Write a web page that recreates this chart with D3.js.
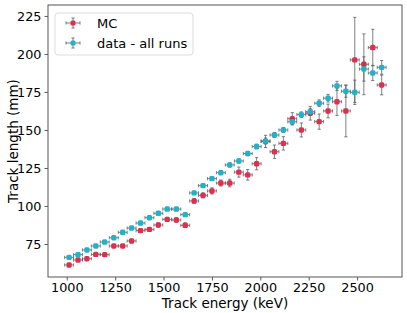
<!DOCTYPE html>
<html>
<head>
<meta charset="utf-8">
<script src="https://cdn.jsdelivr.net/npm/d3@7"></script>
<style>
    body { margin: 0; background: #fff; }
    text { font-family: "DejaVu Sans", sans-serif; fill: #000; }
</style>
</head>
<body>
<div id="wrapper"></div>
<script>
// bin centres (keV)
const energy = [1012, 1058, 1104, 1150, 1196, 1243, 1289, 1335, 1381, 1427, 1473, 1519,
    1566, 1612, 1658, 1704, 1750, 1796, 1842, 1889, 1935, 1981, 2027, 2073,
    2119, 2165, 2212, 2258, 2304, 2350, 2396, 2442, 2488, 2535, 2581, 2627]
const energyErr = 23

const mcLength = [61.2, 64.5, 65.3, 68.2, 68.0, 73.7, 73.7, 77.0, 83.8, 84.6, 87.5, 91.2,
    90.8, 87.3, 103.3, 107.0, 109.9, 115.1, 115.1, 122.3, 120.5, 127.8, 142.5, 135.7,
    141.2, 157.4, 150.0, 161.0, 155.5, 162.5, 168.6, 162.5, 196.1, 193.2, 204.2, 179.6]
const mcErr = [1, 1, 1, 1, 1, 1, 1, 1.2, 1.2, 1.2, 1.3, 1.3,
    1.5, 1.5, 1.5, 1.7, 2, 2, 2.5, 3.3, 3.5, 4, 4, 4.4,
    4.4, 4, 4.6, 4.5, 5, 4.5, 9, 17, 28, 20, 12, 6.5]

const dataLength = [66.2, 68.0, 71.1, 73.7, 76.3, 79.1, 82.7, 85.5, 88.8, 92.3, 95.2, 98.0,
    98.0, 94.3, 108.6, 113.4, 118.0, 121.9, 127.0, 129.6, 134.5, 139.1, 142.7, 146.7,
    150.0, 155.4, 160.1, 162.0, 167.6, 170.9, 179.0, 175.5, 174.8, 190.1, 187.5, 191.2]
const dataErr = [0.8, 0.8, 0.8, 0.8, 0.8, 0.8, 0.8, 0.9, 0.9, 0.9, 1, 1,
    1, 1, 1.1, 1.1, 1.2, 1.2, 1.3, 1.3, 1.4, 1.5, 2, 1.6,
    1.7, 2, 1.8, 2, 2.2, 2.5, 3, 4, 8, 8, 5, 4.5]

const xTicks = [1000, 1250, 1500, 1750, 2000, 2250, 2500]
const yTicks = [75, 100, 125, 150, 175, 200, 225]

const series = [
    { name: "MC", color: "#dc3050", values: mcLength, errs: mcErr },
    { name: "data - all runs", color: "#1fb2c9", values: dataLength, errs: dataErr },
]

const width = 407
let dimensions = {
    width: width,
    height: 313,
    margin: { top: 5, right: 5, bottom: 36, left: 48 },
}
dimensions.boundedWidth = dimensions.width - dimensions.margin.left - dimensions.margin.right
dimensions.boundedHeight = dimensions.height - dimensions.margin.top - dimensions.margin.bottom

const wrapper = d3.select("#wrapper")
    .append("svg")
    .attr("width", dimensions.width)
    .attr("height", dimensions.height)

const bounds = wrapper.append("g")
    .attr("transform", `translate(${dimensions.margin.left},${dimensions.margin.top})`)

const xScaler = d3.scaleLinear()
    .domain([903, 2732])
    .range([0, dimensions.boundedWidth])

const yScaler = d3.scaleLinear()
    .domain([53.3, 232.2])
    .range([dimensions.boundedHeight, 0])

const errColor = "#555"
const cap = 1.6

// error bars + markers
series.forEach(s => {
    const g = bounds.append("g")
    const pts = energy.map((e, i) => ({ e: e, v: s.values[i], err: s.errs[i] }))
    const bars = g.selectAll(".err").data(pts).join("g")
        .attr("stroke", errColor)
        .attr("stroke-opacity", 0.75)
        .attr("stroke-width", 1)
    bars.append("line")
        .attr("x1", d => xScaler(d.e - energyErr))
        .attr("x2", d => xScaler(d.e + energyErr))
        .attr("y1", d => yScaler(d.v))
        .attr("y2", d => yScaler(d.v))
    bars.append("line")
        .attr("x1", d => xScaler(d.e))
        .attr("x2", d => xScaler(d.e))
        .attr("y1", d => yScaler(d.v - d.err))
        .attr("y2", d => yScaler(d.v + d.err))
    ;[-1, 1].forEach(sign => {
        bars.append("line")
            .attr("x1", d => xScaler(d.e + sign * energyErr))
            .attr("x2", d => xScaler(d.e + sign * energyErr))
            .attr("y1", d => yScaler(d.v) - cap)
            .attr("y2", d => yScaler(d.v) + cap)
        bars.append("line")
            .attr("x1", d => xScaler(d.e) - cap)
            .attr("x2", d => xScaler(d.e) + cap)
            .attr("y1", d => yScaler(d.v + sign * d.err))
            .attr("y2", d => yScaler(d.v + sign * d.err))
    })
    g.selectAll("rect").data(pts).join("rect")
        .attr("x", d => xScaler(d.e) - 2.7)
        .attr("y", d => yScaler(d.v) - 2.7)
        .attr("width", 5.4)
        .attr("height", 5.4)
        .attr("rx", 1.6)
        .attr("fill", s.color)
})

// axes
const xAxis = bounds.append("g")
    .attr("transform", `translate(0,${dimensions.boundedHeight})`)
    .call(d3.axisBottom(xScaler).tickValues(xTicks).tickFormat(d3.format("d")).tickSize(3.5).tickPadding(2.5))
const yAxis = bounds.append("g")
    .call(d3.axisLeft(yScaler).tickValues(yTicks).tickFormat(d3.format("d")).tickSize(3.5).tickPadding(3))

;[xAxis, yAxis].forEach(a => {
    a.select(".domain").remove()
    a.selectAll(".tick line").attr("stroke", "#333").attr("stroke-width", 0.8)
    a.selectAll(".tick text").style("font-size", "12.8px").attr("fill", "#000")
})

// frame
bounds.append("rect")
    .attr("width", dimensions.boundedWidth)
    .attr("height", dimensions.boundedHeight)
    .attr("fill", "none")
    .attr("stroke", "#555")
    .attr("stroke-width", 1)

wrapper.append("text")
    .attr("x", dimensions.margin.left + dimensions.boundedWidth / 2)
    .attr("y", 307.5)
    .attr("text-anchor", "middle")
    .style("font-size", "13.5px")
    .text("Track energy (keV)")

wrapper.append("text")
    .attr("transform", `translate(18,${dimensions.margin.top + dimensions.boundedHeight / 2}) rotate(-90)`)
    .attr("text-anchor", "middle")
    .style("font-size", "13.5px")
    .text("Track length (mm)")

// legend
const legend = bounds.append("g")
    .attr("transform", "translate(7,8)")
legend.append("rect")
    .attr("width", 138)
    .attr("height", 42)
    .attr("rx", 3)
    .attr("fill", "#fff")
    .attr("fill-opacity", 0.8)
    .attr("stroke", "#ddd")

const items = legend.selectAll(".item").data(series).join("g")
    .attr("transform", (d, i) => `translate(18,${10 + i * 20})`)
items.append("line")
    .attr("x1", -7).attr("x2", 7)
    .attr("stroke", errColor).attr("stroke-opacity", 0.75)
items.append("line")
    .attr("y1", -5).attr("y2", 5)
    .attr("stroke", errColor).attr("stroke-opacity", 0.75)
;[-1, 1].forEach(sign => {
    items.append("line")
        .attr("x1", sign * 7).attr("x2", sign * 7)
        .attr("y1", -cap).attr("y2", cap)
        .attr("stroke", errColor).attr("stroke-opacity", 0.75)
    items.append("line")
        .attr("x1", -cap).attr("x2", cap)
        .attr("y1", sign * 5).attr("y2", sign * 5)
        .attr("stroke", errColor).attr("stroke-opacity", 0.75)
})
items.append("rect")
    .attr("x", -2.5).attr("y", -2.5)
    .attr("width", 5).attr("height", 5)
    .attr("rx", 1.5)
    .attr("fill", d => d.color)
items.append("text")
    .attr("x", 24)
    .attr("dy", "0.35em")
    .style("font-size", "13px")
    .text(d => d.name)
</script>
</body>
</html>
